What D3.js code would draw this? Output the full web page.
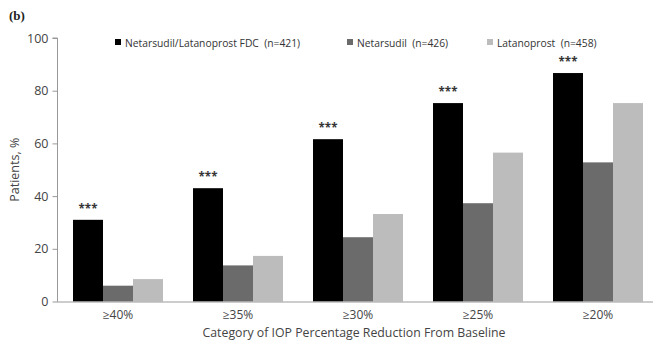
<!DOCTYPE html>
<html>
<head>
<meta charset="utf-8">
<script src="https://cdn.jsdelivr.net/npm/d3@7"></script>
<style>
  body { margin: 0; background: #fff; }
  svg { display: block; font-family: "Open Sans", sans-serif; }
</style>
</head>
<body>
<div id="chart"></div>
<script>
const categories = ["≥40%", "≥35%", "≥30%", "≥25%", "≥20%"];
const seriesNames = ["Netarsudil/Latanoprost FDC  (n=421)", "Netarsudil  (n=426)", "Latanoprost  (n=458)"];
const fdcValues = [31, 43, 61.6, 75.3, 86.7];
const netarsudilValues = [6, 13.7, 24.4, 37.3, 52.8];
const latanoprostValues = [8.5, 17.3, 33.2, 56.5, 75.3];
const significance = ["***", "***", "***", "***", "***"];
const yTicks = [0, 20, 40, 60, 80, 100];

const width = 653, height = 340;
const colors = ["#000000", "#6b6b6b", "#bcbcbc"];
const series = [fdcValues, netarsudilValues, latanoprostValues];

const svg = d3.select("#chart")
  .append("svg")
  .attr("width", width)
  .attr("height", height);

// scales
const x = d3.scaleBand()
  .domain(categories)
  .range([58, 658])
  .paddingInner(0.25)
  .paddingOuter(0.125);

const sub = d3.scaleBand()
  .domain(d3.range(series.length))
  .range([0, x.bandwidth()]);

const y = d3.scaleLinear()
  .domain([0, 100])
  .range([301.5, 38]);

// panel letter
svg.append("text")
  .attr("x", 9)
  .attr("y", 20)
  .attr("font-family", "Liberation Serif, serif")
  .attr("font-weight", "bold")
  .attr("font-size", 13)
  .attr("fill", "#222")
  .text("(b)");

// y axis
const yAxis = svg.append("g")
  .attr("transform", "translate(57.5,0)")
  .call(d3.axisLeft(y).tickValues(yTicks).tickSize(5).tickPadding(4));
yAxis.select(".domain").attr("stroke", "#999").attr("d", `M-5,${y(100)}H0V${y(0)}`);
yAxis.selectAll(".tick line").attr("stroke", "#999");
yAxis.selectAll("text").attr("font-size", 12.5).attr("fill", "#444")
  .attr("font-family", "Open Sans, sans-serif");

svg.append("text")
  .attr("transform", `translate(19,${(y(0) + y(100)) / 2}) rotate(-90)`)
  .attr("text-anchor", "middle")
  .attr("font-size", 12.5)
  .attr("fill", "#444")
  .text("Patients, %");

// bars
series.forEach((vals, si) => {
  svg.append("g")
    .selectAll("rect")
    .data(vals)
    .join("rect")
    .attr("x", (d, i) => x(categories[i]) + sub(si))
    .attr("y", d => y(d))
    .attr("width", sub.bandwidth())
    .attr("height", d => y(0) - y(d))
    .attr("fill", colors[si]);
});

// significance stars
svg.append("g")
  .selectAll("text")
  .data(significance)
  .join("text")
  .attr("x", (d, i) => x(categories[i]) + sub(0) + sub.bandwidth() / 2)
  .attr("y", (d, i) => y(fdcValues[i]) - 7)
  .attr("text-anchor", "middle")
  .attr("font-size", 11.5)
  .attr("font-weight", "bold")
  .attr("fill", "#333")
  .text(d => d);

// x axis
const xAxis = svg.append("g")
  .attr("transform", `translate(0,${y(0) + 0.5})`)
  .call(d3.axisBottom(x).tickSize(0).tickPadding(8));
xAxis.select(".domain").attr("stroke", "#999").attr("d", `M57,0H653`);
xAxis.selectAll("text").attr("font-size", 12).attr("fill", "#444")
  .attr("font-family", "Open Sans, sans-serif");

svg.append("text")
  .attr("x", 354)
  .attr("y", 337)
  .attr("text-anchor", "middle")
  .attr("font-size", 12.3)
  .attr("fill", "#444")
  .text("Category of IOP Percentage Reduction From Baseline");

// legend
const legendX = [115, 347, 487];
const legend = svg.append("g")
  .selectAll("g")
  .data(seriesNames)
  .join("g")
  .attr("transform", (d, i) => `translate(${legendX[i]},43)`);
legend.append("rect")
  .attr("x", 0).attr("y", -4)
  .attr("width", 6).attr("height", 6)
  .attr("fill", (d, i) => colors[i]);
legend.append("text")
  .attr("x", 10).attr("y", 3.5)
  .attr("font-size", 10.3)
  .attr("fill", "#333")
  .attr("xml:space", "preserve")
  .style("white-space", "pre")
  .text(d => d);
</script>
</body>
</html>
